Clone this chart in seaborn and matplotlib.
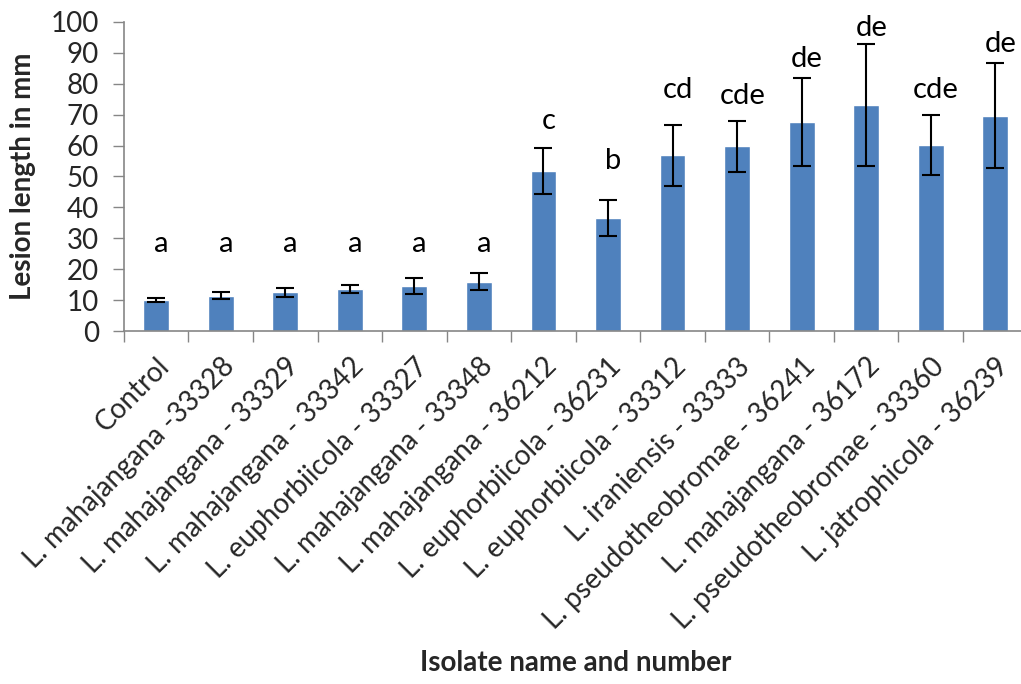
import numpy as np
import pandas as pd
import matplotlib
matplotlib.use("Agg")
import matplotlib.pyplot as plt
import seaborn as sns

# isolates and measured lesion lengths (mm)
isolates = [
    "Control", "L. mahajangana -33328", "L. mahajangana - 33329",
    "L. mahajangana - 33342", "L. euphorbiicola - 33327",
    "L. mahajangana - 33348", "L. mahajangana - 36212",
    "L. euphorbiicola - 36231", "L. euphorbiicola - 33312",
    "L. iraniensis - 33333", "L. pseudotheobromae - 36241",
    "L. mahajangana - 36172", "L. pseudotheobromae - 33360",
    "L. jatrophicola - 36239",
]
lesion_mean = [10.0, 11.4, 12.5, 13.7, 14.5, 16.0, 51.8, 36.5, 56.8, 59.7, 67.6, 73.1, 60.3, 69.7]
lesion_err = [0.6, 1.1, 1.5, 1.3, 2.6, 2.8, 7.4, 5.9, 10.0, 8.4, 14.1, 19.6, 9.7, 17.1]
groups = ["a", "a", "a", "a", "a", "a", "c", "b", "cd", "cde", "de", "de", "cde", "de"]
group_y = [28, 28, 28, 28, 28, 28, 68, 55, 78, 76, 88, 98, 78, 93]

df = pd.DataFrame({"isolate": isolates, "mean": lesion_mean, "err": lesion_err})

sns.set_style("white")
plt.rcParams["font.family"] = ["Lato", "DejaVu Sans"]

fig = plt.figure(figsize=(10.21, 6.84), dpi=100)
ax = fig.add_axes([0.1214, 0.516, 0.885, 0.452])

sns.barplot(data=df, x="isolate", y="mean", color="#4F81BD", saturation=1,
            width=0.4, errorbar=None, ax=ax)
xpos = np.arange(len(isolates))
ax.errorbar(xpos, df["mean"], yerr=df["err"], fmt="none", ecolor="black",
            elinewidth=1.5, capsize=6.5, capthick=1.5)

# significance letters
for x, y, g in zip(xpos, group_y, groups):
    ax.text(x + 0.08, y, g, ha="center", va="center", fontsize=21, color="black")

ax.set_ylim(0, 100)
ax.set_xlim(-0.5, len(isolates) - 0.5)
ax.set_yticks(np.arange(0, 101, 10))
ax.tick_params(axis="y", labelsize=20, length=8, width=1, color="#868686", pad=10, left=True)
ax.tick_params(axis="x", which="major", length=0, labelsize=20, pad=16)
ax.set_xticks(np.arange(len(isolates) + 1) - 0.5, minor=True)
ax.tick_params(axis="x", which="minor", length=8, width=1, color="#868686", bottom=True)
plt.setp(ax.get_xticklabels(), rotation=45, ha="right", rotation_mode="anchor")

sns.despine(ax=ax)
for s in ["left", "bottom"]:
    ax.spines[s].set_color("#868686")
    ax.spines[s].set_linewidth(1.2)

ax.set_ylabel("Lesion length in mm", fontsize=20, fontweight="bold", va="center")
ax.yaxis.set_label_coords(-0.112, 0.5)
ax.set_xlabel("Isolate name and number", fontsize=20, fontweight="bold", va="center")
ax.xaxis.set_label_coords(0.5, -1.074)

fig.savefig("out.png", dpi=100)
